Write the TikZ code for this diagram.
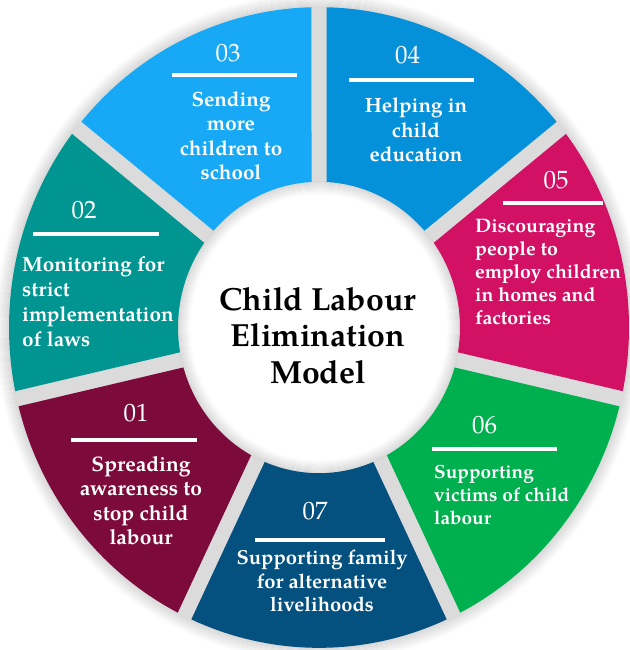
\documentclass[tikz,border=0pt]{standalone}
\usepackage{fontspec}
\setmainfont{texgyrepagella}[Extension=.otf,UprightFont=*-regular,BoldFont=*-bold,ItalicFont=*-italic,BoldItalicFont=*-bolditalic]
\usetikzlibrary{positioning}

\definecolor{segone}{HTML}{7C0A3A}
\definecolor{segtwo}{HTML}{009591}
\definecolor{segthree}{HTML}{17A9F5}
\definecolor{segfour}{HTML}{0590DA}
\definecolor{segfive}{HTML}{D21064}
\definecolor{segsix}{HTML}{00B04F}
\definecolor{segseven}{HTML}{04507F}

\tikzset{
  stepnum/.style = {text=white, inner sep=0pt, font=\fontsize{25}{25}\selectfont},
  bar/.style = {fill=white, inner sep=0pt, minimum height=4pt},
  desc/.style = {text=white, inner sep=0pt, font=\bfseries\fontsize{20.6}{24.5}\selectfont}
}

\begin{document}
\begin{tikzpicture}[x=1pt,y=1pt]
    \useasboundingbox (0,0) rectangle (629,650);

    % ring with its soft shadow
    \begin{scope}[shift={(319,322.5)},yscale=1.0334]
        \foreach \i in {0,...,12}{
            \pgfmathsetmacro\g{15*(1-\i/13)}
            \draw[black!\g,line width=1.2pt] (0,0) circle (311+\i);
        }
        \fill[black!14,even odd rule] (0,0) circle (311) (0,0) circle (141);
        \foreach \i in {0,...,12}{
            \pgfmathsetmacro\g{16*(1-\i/13)}
            \draw[black!\g,line width=1.2pt] (0,0) circle (141-\i);
        }
        \fill[white] (0,0) circle (128.5);
        \foreach \k/\col in {0/segfour,1/segfive,2/segsix,3/segseven,4/segone,5/segtwo,6/segthree}{
            \pgfmathsetmacro\aA{38.5714-51.4286*\k}
            \pgfmathsetmacro\aB{\aA+51.4286}
            \fill[\col] (\aA+3.05:141) -- (\aA+1.39:310)
                arc[start angle=\aA+1.39, end angle=\aB-1.39, radius=310]
                -- (\aB-3.05:141)
                arc[start angle=\aB-3.05, end angle=\aA+3.05, radius=141] -- cycle;
        }
    \end{scope}

    \node[inner sep=0pt, align=center, anchor=north, font=\bfseries\fontsize{32}{36.5}\selectfont] (title) at (318,363) {Child Labour\\Elimination\\Model};

    % 01
    \node[stepnum] (num1) at (136,236.5) {01};
    \node[bar, minimum width=126pt] (bar1) at (134,210) {};
    \node[desc, align=center, anchor=north, font=\bfseries\fontsize{21}{24.5}\selectfont] (txt1) at (141,194) {Spreading\\awareness to\\stop child\\labour};

    % 02
    \node[stepnum] (num2) at (84,440) {02};
    \node[bar, minimum width=126pt] (bar2) at (96,416) {};
    \node[desc, align=left, anchor=north west, font=\bfseries\fontsize{20.7}{25}\selectfont] (txt2) at (22,394) {Monitoring for\\strict\\implementation\\of laws};

    % 03
    \node[stepnum] (num3) at (228,596.5) {03};
    \node[bar, minimum width=125pt] (bar3) at (234.5,575) {};
    \node[desc, align=center, anchor=north] (txt3) at (231,559) {Sending\\more\\children to\\school};

    % 04
    \node[stepnum] (num4) at (407.5,595) {04};
    \node[bar, minimum width=125pt] (bar4) at (411.5,570) {};
    \node[desc, align=center, anchor=north] (txt4) at (416,552.5) {Helping in\\child\\education};

    % 05
    \node[stepnum] (num5) at (556,470) {05};
    \node[bar, minimum width=100pt] (bar5) at (553,447) {};
    \node[desc, align=left, anchor=north west, font=\bfseries\fontsize{19.5}{23}\selectfont] (txt5) at (475,431) {Discouraging\\people to\\employ children\\in homes and\\factories};

    % 06
    \node[stepnum] (num6) at (484.5,224.5) {06};
    \node[bar, minimum width=125pt] (bar6) at (494.5,201) {};
    \node[desc, align=left, anchor=north west, font=\bfseries\fontsize{19}{23}\selectfont] (txt6) at (434,185) {Supporting\\victims of child\\labour};

    % 07
    \node[stepnum] (num7) at (315,139) {07};
    \node[bar, minimum width=130pt] (bar7) at (320,110) {};
    \node[desc, align=center, anchor=north, font=\bfseries\fontsize{20.2}{23.5}\selectfont] (txt7) at (322,100) {Supporting family\\for alternative\\livelihoods};
\end{tikzpicture}
\end{document}
